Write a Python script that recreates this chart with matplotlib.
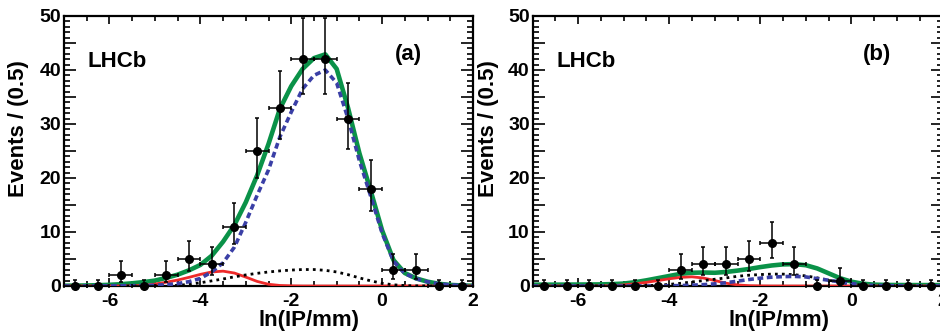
import matplotlib
matplotlib.use('Agg')
import matplotlib.pyplot as plt
from matplotlib.ticker import MultipleLocator, FuncFormatter

plt.rcParams['font.family'] = ['Liberation Sans', 'DejaVu Sans']
plt.rcParams['font.weight'] = 'bold'
plt.rcParams['axes.unicode_minus'] = False

# binned data (bin width 0.5)
bin_centers = [-6.75, -6.25, -5.75, -5.25, -4.75, -4.25, -3.75, -3.25, -2.75,
               -2.25, -1.75, -1.25, -0.75, -0.25, 0.25, 0.75, 1.25, 1.75]
bin_half = [0.25] * 18

counts_a = [0, 0, 2, 0, 2, 5, 4, 11, 25, 33, 42, 42, 31, 18, 3, 3, 0, 0]
err_lo_a = [0, 0, 1.29, 0, 1.29, 2.16, 1.91, 3.28, 4.97, 5.72, 6.46, 6.46, 5.54, 4.20, 1.63, 1.63, 0, 0]
err_hi_a = [1.15, 1.15, 2.64, 1.15, 2.64, 3.38, 3.16, 4.41, 6.06, 6.81, 7.55, 7.55, 6.62, 5.30, 2.92, 2.92, 1.15, 1.15]

counts_b = [0, 0, 0, 0, 0, 0, 3, 4, 4, 5, 8, 4, 0, 1, 0, 0, 0, 0]
err_lo_b = [0, 0, 0, 0, 0, 0, 1.63, 1.91, 1.91, 2.16, 2.77, 1.91, 0, 0.83, 0, 0, 0, 0]
err_hi_b = [1.15, 1.15, 1.15, 1.15, 1.15, 1.15, 2.92, 3.16, 3.16, 3.38, 3.94, 3.16, 1.15, 2.30, 1.15, 1.15, 1.15, 1.15]

# fit curves, sampled every 0.25
curve_x = [-7, -6.75, -6.5, -6.25, -6, -5.75, -5.5, -5.25, -5, -4.75, -4.5, -4.25,
           -4, -3.75, -3.5, -3.25, -3, -2.75, -2.5, -2.25, -2, -1.75, -1.5, -1.25,
           -1, -0.75, -0.5, -0.25, 0, 0.25, 0.5, 0.75, 1, 1.25, 1.5, 1.75, 2]

total_a = [0.05, 0.07, 0.10, 0.15, 0.22, 0.33, 0.50, 0.72, 1.0, 1.5, 2.1, 2.9,
           3.9, 5.6, 8.2, 11.3, 15.5, 20.5, 26.3, 32.8, 37.0, 40.2, 42.2, 42.9,
           40.2, 33.0, 24.6, 17.6, 10.3, 4.8, 2.4, 1.4, 0.8, 0.4, 0.2, 0.1, 0.05]
signal_a = [0, 0, 0.01, 0.02, 0.03, 0.05, 0.07, 0.09, 0.13, 0.25, 0.45, 0.8,
            1.4, 2.6, 4.3, 7.2, 11.8, 16.8, 21.5, 27.6, 32.2, 36.5, 39.0, 40.0,
            37.6, 31.0, 23.2, 16.6, 9.8, 4.6, 2.3, 1.35, 0.78, 0.4, 0.2, 0.1, 0.05]
red_a = [0, 0, 0, 0, 0, 0, 0.02, 0.1, 0.35, 0.7, 1.1, 1.6,
         2.15, 2.6, 2.75, 2.4, 1.65, 0.85, 0.32, 0.1, 0.03, 0, 0, 0,
         0, 0, 0, 0, 0, 0, 0, 0, 0, 0, 0, 0, 0]
dotted_a = [0, 0, 0, 0, 0, 0, 0, 0, 0.02, 0.05, 0.12, 0.3,
            0.6, 0.95, 1.3, 1.7, 2.05, 2.35, 2.6, 2.8, 2.95, 3.05, 3.05, 2.9,
            2.6, 2.1, 1.5, 0.95, 0.5, 0.22, 0.08, 0.03, 0, 0, 0, 0, 0]

total_b = [0.25, 0.25, 0.25, 0.26, 0.27, 0.28, 0.30, 0.35, 0.45, 0.7, 1.05, 1.45,
           1.85, 2.25, 2.45, 2.5, 2.45, 2.6, 2.85, 3.15, 3.5, 3.8, 4.0, 4.05,
           3.85, 3.25, 2.35, 1.45, 0.8, 0.42, 0.25, 0.2, 0.18, 0.17, 0.17, 0.17, 0.17]
signal_b = [0, 0, 0, 0, 0, 0, 0, 0, 0, 0, 0.01, 0.02,
            0.04, 0.08, 0.15, 0.25, 0.4, 0.6, 0.9, 1.2, 1.45, 1.64, 1.74, 1.78,
            1.68, 1.36, 1.07, 0.76, 0.45, 0.2, 0.1, 0.06, 0.03, 0.02, 0, 0, 0]
red_b = [0, 0, 0, 0, 0, 0, 0.01, 0.05, 0.2, 0.42, 0.68, 1.0,
         1.33, 1.6, 1.7, 1.48, 1.02, 0.52, 0.2, 0.06, 0.02, 0, 0, 0,
         0, 0, 0, 0, 0, 0, 0, 0, 0, 0, 0, 0, 0]
dotted_b = [0, 0, 0, 0, 0, 0, 0, 0, 0, 0.02, 0.06, 0.15,
            0.3, 0.5, 0.75, 1.0, 1.25, 1.5, 1.8, 2.0, 2.12, 2.2, 2.2, 2.09,
            1.87, 1.51, 1.08, 0.68, 0.36, 0.16, 0.06, 0.02, 0, 0, 0, 0, 0]

green = '#0a9248'
blue = '#3a3fa6'
red = '#ee2a2a'


def draw_panel(ax, counts, lo, hi, total, signal, redc, dotted, tag, ylab_x):
    ax.plot(curve_x, total, color=green, lw=3.3, zorder=2)
    ax.plot(curve_x, redc, color=red, lw=2.0, zorder=3)
    ax.plot(curve_x, dotted, color='black', lw=2.0, ls=(0, (1, 1.5)), zorder=3)
    ax.plot(curve_x, signal, color=blue, lw=2.6, ls=(0, (1.6, 1.0)), zorder=4)
    eb = ax.errorbar(bin_centers, counts, xerr=bin_half, yerr=[lo, hi], fmt='o',
                     color='black', ms=5.5, elinewidth=1.1, capsize=1.6,
                     capthick=1.1, zorder=5)
    arts = [eb.lines[0]] + list(eb.lines[1]) + list(eb.lines[2])
    for art in arts:
        art.set_clip_on(False)

    ax.set_xlim(-7, 2)
    ax.set_ylim(0, 50)
    ax.xaxis.set_major_locator(MultipleLocator(2))
    ax.xaxis.set_minor_locator(MultipleLocator(0.5))
    ax.yaxis.set_major_locator(MultipleLocator(5))
    ax.yaxis.set_minor_locator(MultipleLocator(1))
    ax.xaxis.set_major_formatter(FuncFormatter(lambda v, p: '%d' % round(v)))
    ax.yaxis.set_major_formatter(FuncFormatter(lambda v, p: '%d' % v if round(v) % 10 == 0 else ''))
    ax.tick_params(which='both', direction='in', top=True, right=True, width=1.2,
                   labelsize=14)
    ax.tick_params(axis='x', which='major', length=6, pad=5)
    ax.tick_params(axis='x', which='minor', length=3.3)
    ax.tick_params(axis='y', which='major', length=8.8, pad=2)
    ax.tick_params(axis='y', which='minor', length=4.5)
    for s in ax.spines.values():
        s.set_linewidth(1.6)

    ax.set_xlabel('ln(IP/mm)', fontsize=16, fontweight='bold')
    ax.set_ylabel('Events / (0.5)', fontsize=16, fontweight='bold')
    ax.xaxis.set_label_coords(0.6, -0.088)
    ax.yaxis.set_label_coords(ylab_x, 0.583)
    ax.text(-6.48, 41.5, 'LHCb', fontsize=16, fontweight='bold', va='center', ha='left')
    ax.text(0.57, 42.8, tag, fontsize=16, fontweight='bold', va='center', ha='center')


fig = plt.figure(figsize=(9.4, 3.32), dpi=100)
ax_a = fig.add_axes([64 / 940, 46 / 332, 409 / 940, 270 / 332])
ax_b = fig.add_axes([532.5 / 940, 46 / 332, 410 / 940, 270 / 332])

draw_panel(ax_a, counts_a, err_lo_a, err_hi_a, total_a, signal_a, red_a, dotted_a, '(a)', -0.086)
draw_panel(ax_b, counts_b, err_lo_b, err_hi_b, total_b, signal_b, red_b, dotted_b, '(b)', -0.082)

fig.savefig('out.png', dpi=100)
